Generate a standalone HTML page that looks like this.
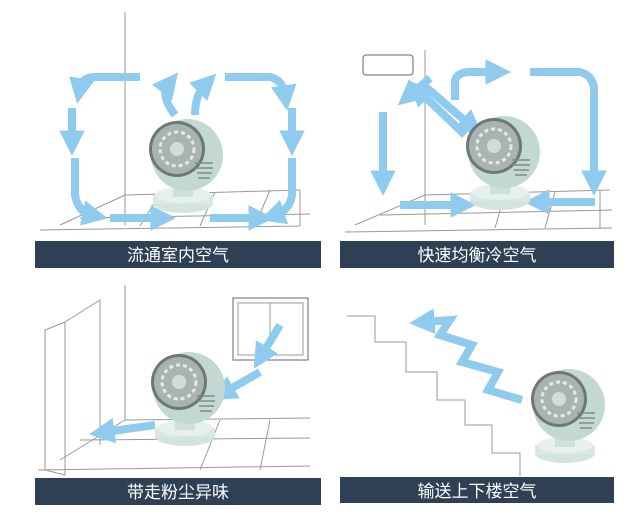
<!DOCTYPE html>
<html><head><meta charset="utf-8"><style>
body{margin:0;background:#fff;width:640px;height:526px;overflow:hidden}
svg{display:block}
.t{font-family:"Liberation Sans","Noto Sans CJK SC",sans-serif;font-size:17px;fill:#fff}
.g{stroke:#999;stroke-width:1;fill:none}
.a{stroke:#8ecbef;stroke-width:8;fill:none;marker-end:url(#h)}
</style></head><body>
<svg width="640" height="526" viewBox="0 0 640 526">
<defs>
<marker id="h" markerWidth="3.2" markerHeight="3.2" refX="1.2" refY="1.6" orient="auto"><path d="M0,0L3.2,1.6L0,3.2z" fill="#8ecbef"/></marker>
<g id="fan">
<ellipse cx="0" cy="48" rx="30" ry="10" fill="#d3e3df"/>
<rect x="-30" y="40" width="60" height="9" fill="#d8e8e4"/>
<ellipse cx="0" cy="40" rx="28" ry="8" fill="#e6f0ed"/>
<rect x="-10" y="22" width="20" height="20" fill="#cfe0db"/>
<circle cx="4" cy="0" r="36" fill="#c3d8d3"/>
<circle cx="-6" cy="-6" r="28" fill="#6d7876"/>
<circle cx="-6" cy="-6" r="25" fill="#a9b4b2"/>
<circle cx="-6" cy="-6" r="17" fill="none" stroke="#e4eaea" stroke-width="3" stroke-dasharray="4 3"/>
<circle cx="-6" cy="-6" r="7" fill="#d2dcda"/>
<path d="M12,8l18,0M13,13l17,0M14,18l15,0M15,23l12,0" stroke="#7d8a88" stroke-width="1.6"/>
</g>
</defs>
<!-- Panel 1 -->
<path class="g" d="M125,12V225M125,195L300,190M60,225L125,195M40,230L300,226M80,218L310,214M300,190V226M270,190L255,226M215,192L200,226M160,194L140,226"/>
<path class="a" d="M140,77H95Q82,77 80,88"/>
<path class="a" d="M72,108V140"/>
<path class="a" d="M75,158V195Q78,212 92,215"/>
<path class="a" d="M110,218H160"/>
<path class="a" d="M175,115Q160,95 168,85"/>
<path class="a" d="M195,115Q195,95 205,85"/>
<path class="a" d="M225,77H270Q283,80 285,95"/>
<path class="a" d="M292,108V140"/>
<path class="a" d="M292,158V195Q290,210 275,215"/>
<path class="a" d="M210,218H258"/>
<use href="#fan" x="183" y="155"/>
<rect x="35" y="241" width="286" height="27" fill="#2f3f54"/>
<text class="t" x="178" y="261" text-anchor="middle">流通室内空气</text>
<!-- Panel 2 -->
<path class="g" d="M425,50V225M425,195L610,190M355,225L425,195M345,232L612,228M380,215L612,210M600,190V228M555,192L545,228M505,193L495,228"/>
<rect x="363" y="55" width="50" height="20" rx="3" fill="#fff" stroke="#666"/>
<path class="a" d="M430,78L410,95"/>
<path class="a" d="M465,135L420,92"/>
<path class="a" d="M420,82L470,125"/>
<path class="a" d="M455,100V80Q458,72 470,72H495"/>
<path class="a" d="M530,72H580Q592,75 594,88V180"/>
<path class="a" d="M383,112V180"/>
<path class="a" d="M400,205H460"/>
<path class="a" d="M595,202H540"/>
<use href="#fan" x="500" y="152"/>
<rect x="340" y="241" width="274" height="27" fill="#2f3f54"/>
<text class="t" x="477" y="261" text-anchor="middle">快速均衡冷空气</text>
<!-- Panel 3 -->
<path class="g" d="M125,285V420M125,420L310,418M60,460L125,420M38,470L310,466M80,440L310,438M220,420L200,470M270,420L260,470"/>
<path class="g" d="M45,330L65,322V475L45,470ZM65,322L100,300V445"/>
<rect x="233" y="298" width="75" height="62" fill="#fff" stroke="#666"/>
<path class="g" d="M238,303H303V355H238ZM270,303V355"/>
<path class="a" d="M280,325L262,355"/>
<path class="a" d="M260,372L225,392"/>
<path class="a" d="M155,425L105,432"/>
<use href="#fan" x="185" y="388"/>
<rect x="35" y="478" width="286" height="27" fill="#2f3f54"/>
<text class="t" x="178" y="498" text-anchor="middle">带走粉尘异味</text>
<!-- Panel 4 -->
<path class="g" d="M347,316H375V342H406V372H437V400H465V425H492V453H520V476"/>
<path class="a" d="M522,400L488,390L498,372L462,362L472,345L440,335L450,320L425,322"/>
<use href="#fan" x="565" y="405"/>
<rect x="340" y="477" width="274" height="26" fill="#2f3f54"/>
<text class="t" x="477" y="497" text-anchor="middle">输送上下楼空气</text>
</svg>
</body></html>
